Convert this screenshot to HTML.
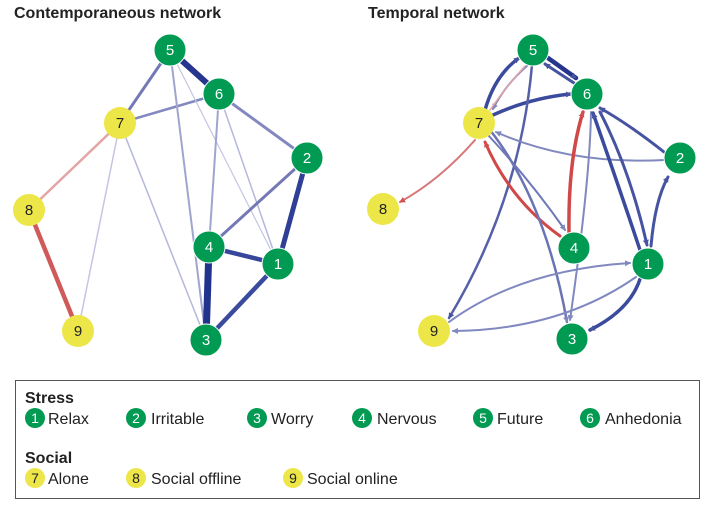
<!DOCTYPE html>
<html><head><meta charset="utf-8"><style>
body{margin:0;background:#fff;width:712px;height:511px;overflow:hidden;font-family:"Liberation Sans",sans-serif}
</style></head><body>
<svg width="712" height="511" viewBox="0 0 712 511" xmlns="http://www.w3.org/2000/svg" font-family="Liberation Sans, sans-serif">
<defs>
<marker id="ab" markerWidth="6" markerHeight="6" refX="5" refY="3" orient="auto" markerUnits="userSpaceOnUse"><path d="M0,0 L6,3 L0,6 z" fill="#4653a0"/></marker>
<marker id="al" markerWidth="6" markerHeight="6" refX="5" refY="3" orient="auto" markerUnits="userSpaceOnUse"><path d="M0,0 L6,3 L0,6 z" fill="#8088c0"/></marker>
<marker id="ar" markerWidth="6" markerHeight="6" refX="5" refY="3" orient="auto" markerUnits="userSpaceOnUse"><path d="M0,0 L6,3 L0,6 z" fill="#d05050"/></marker>
</defs>
<text x="14" y="18" font-size="16" font-weight="bold" fill="#222">Contemporaneous network</text>
<text x="368" y="18" font-size="16" font-weight="bold" fill="#222">Temporal network</text>
<g fill="none" stroke-linecap="round">
<line x1="170" y1="50" x2="219" y2="94" stroke="#26368f" stroke-width="6"/>
<line x1="170" y1="50" x2="120" y2="123" stroke="#7479b5" stroke-width="3"/>
<line x1="219" y1="94" x2="120" y2="123" stroke="#8389c0" stroke-width="2.5"/>
<line x1="219" y1="94" x2="307" y2="158" stroke="#8389c0" stroke-width="3"/>
<line x1="170" y1="50" x2="206" y2="340" stroke="#a0a5d0" stroke-width="2"/>
<line x1="170" y1="50" x2="278" y2="264" stroke="#c3c6e2" stroke-width="1.2"/>
<line x1="219" y1="94" x2="209" y2="247" stroke="#a0a5d0" stroke-width="2"/>
<line x1="219" y1="94" x2="278" y2="264" stroke="#b5b8dc" stroke-width="1.5"/>
<line x1="120" y1="123" x2="206" y2="340" stroke="#b5b8dc" stroke-width="1.5"/>
<line x1="120" y1="123" x2="78" y2="331" stroke="#c3c6e2" stroke-width="1.5"/>
<line x1="120" y1="123" x2="29" y2="210" stroke="#e3a5a5" stroke-width="2.5"/>
<line x1="29" y1="210" x2="78" y2="331" stroke="#d05a5a" stroke-width="4.5"/>
<line x1="307" y1="158" x2="209" y2="247" stroke="#7479b5" stroke-width="3"/>
<line x1="307" y1="158" x2="278" y2="264" stroke="#2f3f95" stroke-width="5"/>
<line x1="209" y1="247" x2="278" y2="264" stroke="#36469a" stroke-width="4.5"/>
<line x1="209" y1="247" x2="206" y2="340" stroke="#22338d" stroke-width="7"/>
<line x1="278" y1="264" x2="206" y2="340" stroke="#3a4a9c" stroke-width="4.5"/>
</g>
<g fill="none" stroke-linecap="round">
<path d="M548,58 L576,78" stroke="#26368f" stroke-width="4.5" marker-end="url(#ab)"/>
<path d="M574,83 L545,64" stroke="#4653a0" stroke-width="3" marker-end="url(#ab)"/>
<path d="M485,110 Q495,75 519,58" stroke="#3a4a9c" stroke-width="3.5" marker-end="url(#ab)"/>
<path d="M528,65 Q505,85 493,109" stroke="#8088c0" stroke-width="2" marker-end="url(#al)"/>
<path d="M525,66 Q505,88 490,110" stroke="#e3a5a5" stroke-width="1.5"/>
<path d="M493,115 Q530,98 571,94" stroke="#3a4a9c" stroke-width="3.5" marker-end="url(#ab)"/>
<path d="M532,65 Q520,200 449,318" stroke="#5560a8" stroke-width="2.5" marker-end="url(#ab)"/>
<path d="M665,160 Q570,165 496,132" stroke="#8088c0" stroke-width="2" marker-end="url(#al)"/>
<path d="M664,152 Q630,125 600,108" stroke="#4653a0" stroke-width="3" marker-end="url(#ab)"/>
<path d="M591,112 Q590,180 570,320" stroke="#8088c0" stroke-width="2" marker-end="url(#al)"/>
<path d="M569,232 Q568,160 583,112" stroke="#d04848" stroke-width="3.5" marker-end="url(#ar)"/>
<path d="M560,236 Q510,200 485,142" stroke="#d04848" stroke-width="3" marker-end="url(#ar)"/>
<path d="M488,135 Q530,180 565,230" stroke="#7079b8" stroke-width="2" marker-end="url(#al)"/>
<path d="M490,130 Q545,200 567,322" stroke="#6a73b4" stroke-width="2.5" marker-end="url(#al)"/>
<path d="M640,250 Q620,190 593,113" stroke="#3a4a9c" stroke-width="3.5" marker-end="url(#ab)"/>
<path d="M600,112 Q630,170 647,245" stroke="#4653a0" stroke-width="3" marker-end="url(#ab)"/>
<path d="M651,246 Q655,200 668,177" stroke="#4653a0" stroke-width="3" marker-end="url(#ab)"/>
<path d="M640,279 Q630,310 590,330" stroke="#3a4a9c" stroke-width="3.5" marker-end="url(#ab)"/>
<path d="M449,322 Q520,270 630,263" stroke="#8088c0" stroke-width="2" marker-end="url(#al)"/>
<path d="M636,277 Q560,330 453,331" stroke="#8088c0" stroke-width="2" marker-end="url(#al)"/>
<path d="M475,140 Q440,180 400,202" stroke="#d87575" stroke-width="2" marker-end="url(#ar)"/>
</g>
<g font-size="15" text-anchor="middle">
<g fill="#009a52" stroke="#fff" stroke-width="1">
<circle cx="170" cy="50" r="16"/><circle cx="219" cy="94" r="16"/><circle cx="307" cy="158" r="16"/>
<circle cx="209" cy="247" r="16"/><circle cx="278" cy="264" r="16"/><circle cx="206" cy="340" r="16"/>
<circle cx="533" cy="50" r="16"/><circle cx="587" cy="94" r="16"/><circle cx="680" cy="158" r="16"/>
<circle cx="574" cy="248" r="16"/><circle cx="648" cy="264" r="16"/><circle cx="572" cy="339" r="16"/>
</g>
<g fill="#ede648">
<circle cx="120" cy="123" r="16"/><circle cx="29" cy="210" r="16"/><circle cx="78" cy="331" r="16"/>
<circle cx="479" cy="123" r="16"/><circle cx="383" cy="209" r="16"/><circle cx="434" cy="331" r="16"/>
</g>
<g fill="#fff">
<text x="170" y="55">5</text><text x="219" y="99">6</text><text x="307" y="163">2</text>
<text x="209" y="252">4</text><text x="278" y="269">1</text><text x="206" y="345">3</text>
<text x="533" y="55">5</text><text x="587" y="99">6</text><text x="680" y="163">2</text>
<text x="574" y="253">4</text><text x="648" y="269">1</text><text x="572" y="344">3</text>
</g>
<g fill="#222">
<text x="120" y="128">7</text><text x="29" y="215">8</text><text x="78" y="336">9</text>
<text x="479" y="128">7</text><text x="383" y="214">8</text><text x="434" y="336">9</text>
</g>
</g>
<rect x="15.5" y="380.5" width="684" height="118" fill="none" stroke="#555" stroke-width="1"/>
<text x="25" y="403" font-size="16" font-weight="bold" fill="#222">Stress</text>
<text x="25" y="463" font-size="16" font-weight="bold" fill="#222">Social</text>
<g font-size="16" fill="#222">
<circle cx="35" cy="418" r="10" fill="#009a52"/><text x="35" y="423" text-anchor="middle" fill="#fff" font-size="14">1</text><text x="48" y="424">Relax</text>
<circle cx="136" cy="418" r="10" fill="#009a52"/><text x="136" y="423" text-anchor="middle" fill="#fff" font-size="14">2</text><text x="151" y="424">Irritable</text>
<circle cx="257" cy="418" r="10" fill="#009a52"/><text x="257" y="423" text-anchor="middle" fill="#fff" font-size="14">3</text><text x="271" y="424">Worry</text>
<circle cx="362" cy="418" r="10" fill="#009a52"/><text x="362" y="423" text-anchor="middle" fill="#fff" font-size="14">4</text><text x="377" y="424">Nervous</text>
<circle cx="483" cy="418" r="10" fill="#009a52"/><text x="483" y="423" text-anchor="middle" fill="#fff" font-size="14">5</text><text x="497" y="424">Future</text>
<circle cx="590" cy="418" r="10" fill="#009a52"/><text x="590" y="423" text-anchor="middle" fill="#fff" font-size="14">6</text><text x="605" y="424">Anhedonia</text>
<circle cx="35" cy="478" r="10" fill="#ede648"/><text x="35" y="483" text-anchor="middle" font-size="14">7</text><text x="48" y="484">Alone</text>
<circle cx="136" cy="478" r="10" fill="#ede648"/><text x="136" y="483" text-anchor="middle" font-size="14">8</text><text x="151" y="484">Social offline</text>
<circle cx="293" cy="478" r="10" fill="#ede648"/><text x="293" y="483" text-anchor="middle" font-size="14">9</text><text x="307" y="484">Social online</text>
</g>
</svg>
</body></html>
